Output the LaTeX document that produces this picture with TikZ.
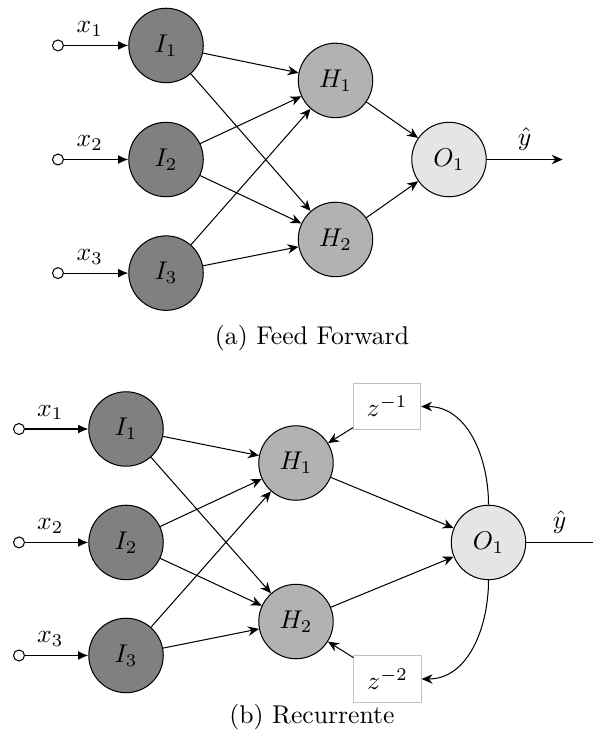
\documentclass[tikz,border=0pt]{standalone}
\usepackage{amsmath}
\usetikzlibrary{arrows.meta, positioning}

\begin{document}
\begin{tikzpicture}[
  >={Stealth[length=1.5mm, width=1.3mm]},
  inlayer/.style={circle, draw, fill=gray, minimum size=1.02cm, inner sep=0pt},
  hidlayer/.style={circle, draw, fill=gray!60, minimum size=1.02cm, inner sep=0pt},
  outlayer/.style={circle, draw, fill=gray!20, minimum size=1.02cm, inner sep=0pt},
  source/.style={circle, draw, fill=white, minimum size=0.15cm, inner sep=0pt},
  delay/.style={draw=gray!50, fill=white, minimum width=0.92cm, minimum height=0.64cm},
  feed/.style={-{Latex[length=1.4mm, width=1.2mm]}},
]
\useasboundingbox (0,0) rectangle (8.122,10.163);

% (a) Feed forward network
\node[inlayer] (ai1) at (2.274,9.540) {$I_1$};
\node[inlayer] (ai2) at (2.274,7.978) {$I_2$};
\node[inlayer] (ai3) at (2.274,6.422) {$I_3$};

\node[source] (ax1) at (0.794,9.540) {};
\node[source] (ax2) at (0.794,7.978) {};
\node[source] (ax3) at (0.794,6.422) {};

\draw[feed] (ax1) -- (ai1) node[pos=0.4, above] {$x_1$};
\draw[feed] (ax2) -- (ai2) node[pos=0.4, above] {$x_2$};
\draw[feed] (ax3) -- (ai3) node[pos=0.4, above] {$x_3$};

\node[hidlayer] (ah1) at (4.595,9.061) {$H_1$};
\node[hidlayer] (ah2) at (4.595,6.883) {$H_2$};

\draw[->] (ai1) -- (ah1);
\draw[->] (ai1) -- (ah2);
\draw[->] (ai2) -- (ah1);
\draw[->] (ai2) -- (ah2);
\draw[->] (ai3) -- (ah1);
\draw[->] (ai3) -- (ah2);

\node[outlayer] (ao1) at (6.150,7.978) {$O_1$};
\draw[->] (ah1) -- (ao1);
\draw[->] (ah2) -- (ao1);

\coordinate (ay) at (7.707,7.978);
\draw[->] (ao1) -- (ay) node[midway, above] {$\hat{y}$};

\node (capa) at (4.273,5.534) {(a) Feed Forward};

% (b) Recurrent network
\node[inlayer] (bi1) at (1.726,4.287) {$I_1$};
\node[inlayer] (bi2) at (1.726,2.733) {$I_2$};
\node[inlayer] (bi3) at (1.726,1.185) {$I_3$};

\node[source] (bx1) at (0.260,4.287) {};
\node[source] (bx2) at (0.260,2.733) {};
\node[source] (bx3) at (0.260,1.185) {};

\draw[feed] (bx1) -- (bi1) node[pos=0.4, above] {$x_1$};
\draw[feed] (bx2) -- (bi2) node[pos=0.4, above] {$x_2$};
\draw[feed] (bx3) -- (bi3) node[pos=0.4, above] {$x_3$};

\node[hidlayer] (bh1) at (4.054,3.821) {$H_1$};
\node[hidlayer] (bh2) at (4.054,1.650) {$H_2$};

\draw[->] (bi1) -- (bh1);
\draw[->] (bi1) -- (bh2);
\draw[->] (bi2) -- (bh1);
\draw[->] (bi2) -- (bh2);
\draw[->] (bi3) -- (bh1);
\draw[->] (bi3) -- (bh2);

\node[outlayer] (bo1) at (6.691,2.733) {$O_1$};
\draw[->] (bh1) -- (bo1);
\draw[->] (bh2) -- (bo1);

\coordinate (by) at (8.122,2.733);
\draw (bo1) -- (by) node[midway, above] {$\hat{y}$};

% delays
\node[delay] (bz1) at (5.301,4.595) {$z^{-1}$};
\node[delay] (bz2) at (5.308,0.863) {$z^{-2}$};

\draw[->] (bo1) to[out=90, in=0] (bz1);
\draw[->] (bo1) to[out=-90, in=0] (bz2);
\draw[->] (bz1) -- (bh1);
\draw[->] (bz2) -- (bh2);

\node (capb) at (4.273,0.342) {(b) Recurrente};

\end{tikzpicture}
\end{document}
